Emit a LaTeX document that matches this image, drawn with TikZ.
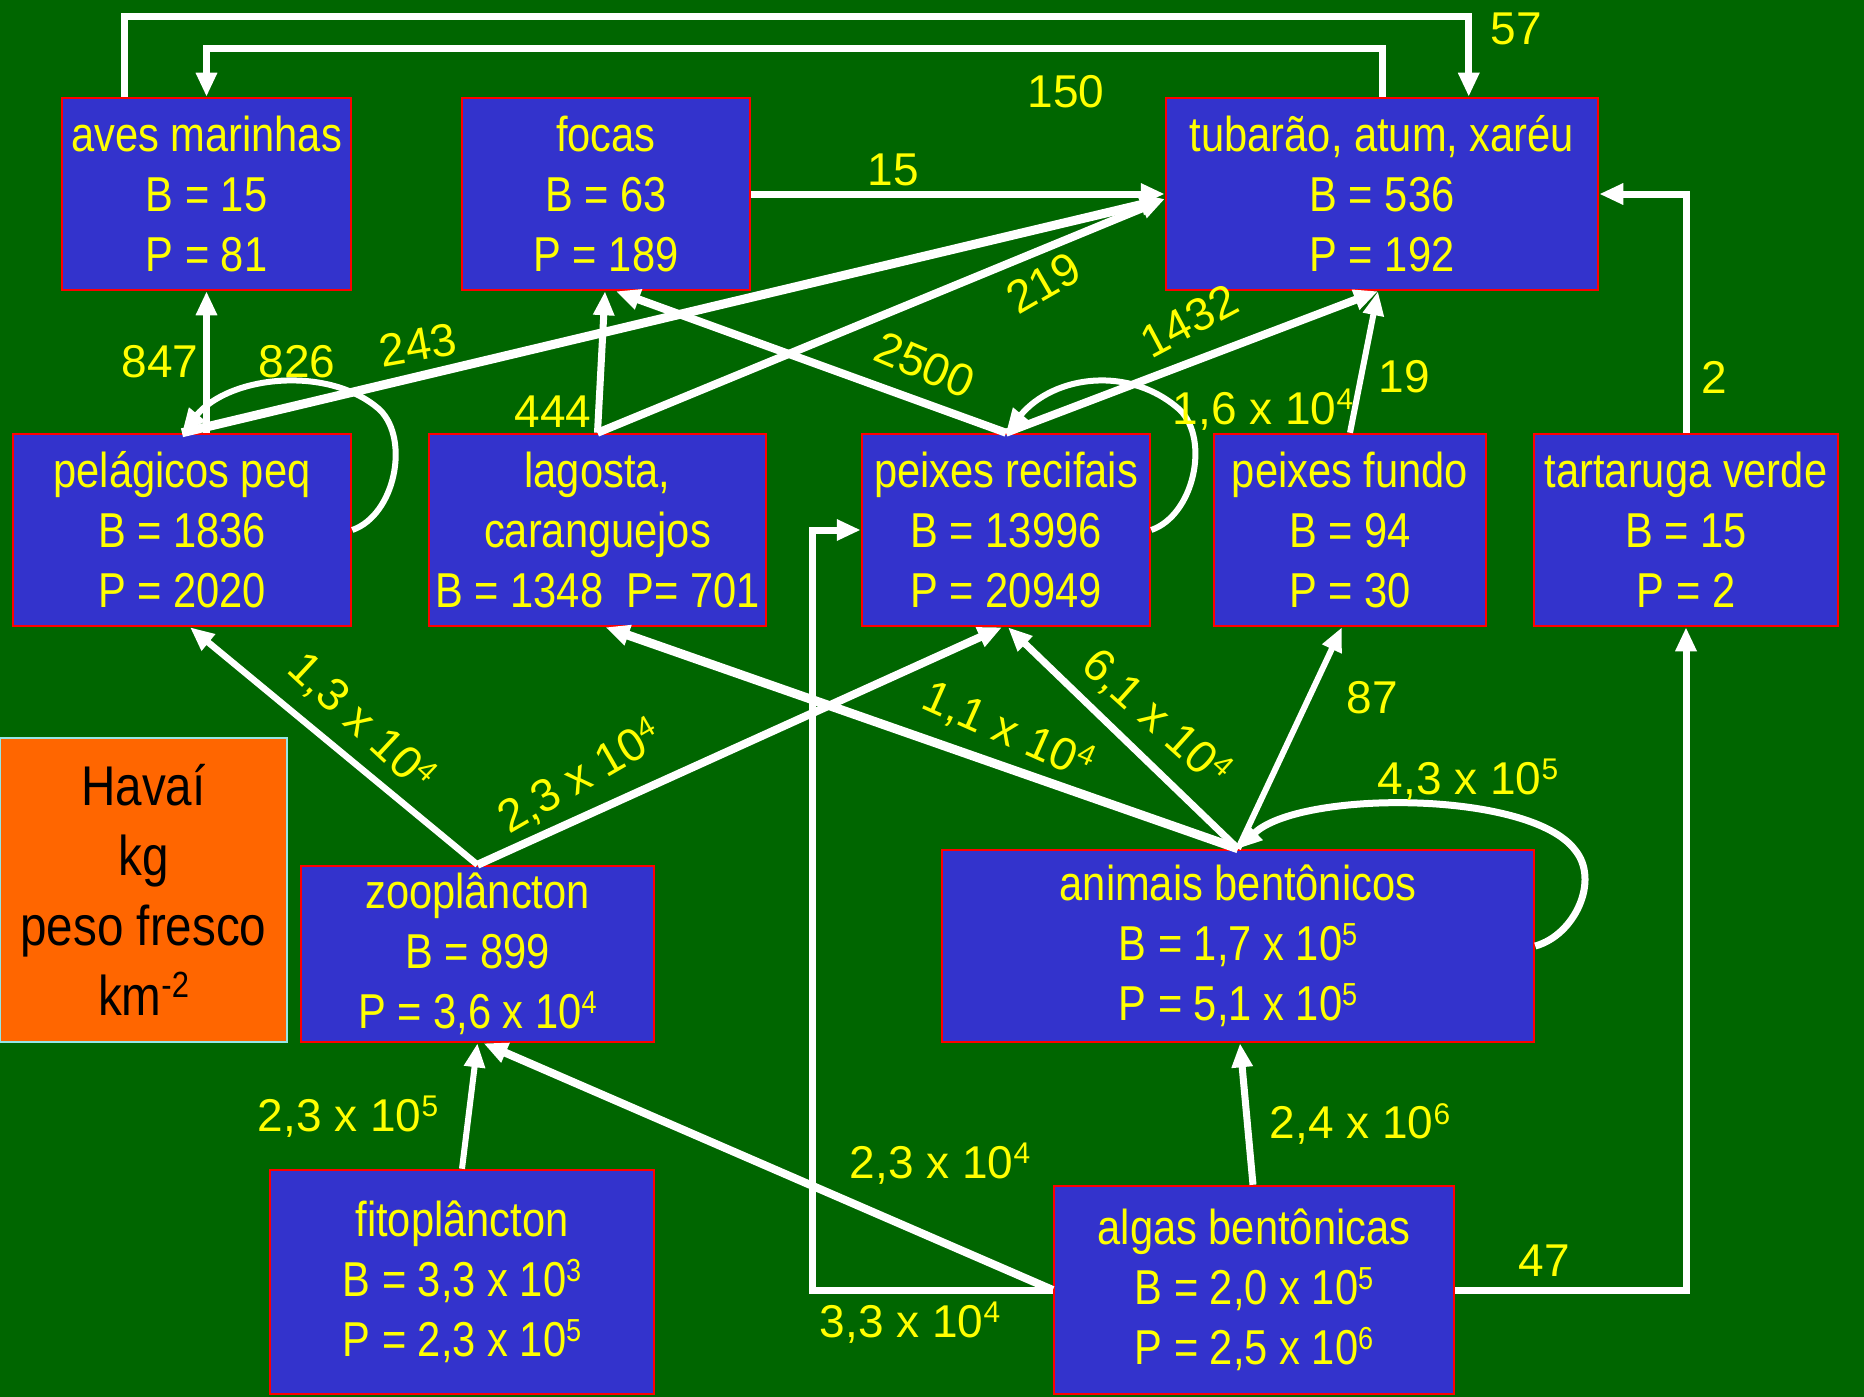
\documentclass[tikz,border=0pt]{standalone}
\usepackage{fontspec}
\setmainfont{Liberation Sans}
\newfontfamily\boxfont{Liberation Sans}[FakeStretch=0.85]
\usetikzlibrary{arrows.meta,calc}
\definecolor{sea}{RGB}{0,102,0}
\definecolor{boxblue}{RGB}{51,51,204}
\definecolor{txt}{RGB}{255,255,0}
\definecolor{tag}{RGB}{255,102,0}
\definecolor{tagline}{RGB}{150,230,230}
% raised exponent, sized relative to the surrounding text
\newcommand\pw[1]{\raisebox{0.32em}{\scalebox{0.65}{#1}}}

\begin{document}
\begin{tikzpicture}[x=1pt,y=-1pt,
  box/.style={draw=red, line width=2.5pt, fill=boxblue, text=txt, align=center,
    inner sep=0pt, font=\boxfont\fontsize{49}{60}\selectfont},
  legendbox/.style={draw=tagline, line width=2pt, fill=tag, text=black, align=center,
    inner sep=0pt, font=\boxfont\fontsize{56}{70}\selectfont},
  flow/.style={draw=white, line width=7pt, -{Triangle[length=24pt,width=20pt]}},
  lbl/.style={text=txt, inner sep=0pt, font=\fontsize{46}{52}\selectfont}]

\useasboundingbox (0,0) rectangle (1864,1397);
\fill[sea] (0,0) rectangle (1864,1397);

% compartments
\node[box, minimum width=289pt, minimum height=192pt] (aves) at (206.5,194) {aves marinhas\\B = 15\\P = 81};
\node[box, minimum width=288pt, minimum height=192pt] (focas) at (606,194) {focas\\B = 63\\P = 189};
\node[box, minimum width=432pt, minimum height=192pt] (tub) at (1382,194) {tubarão, atum, xaréu\\B = 536\\P = 192};
\node[box, minimum width=338pt, minimum height=192pt] (pel) at (182,530) {pelágicos peq\\B = 1836\\P = 2020};
\node[box, minimum width=337pt, minimum height=192pt] (lag) at (597.5,530) {lagosta,\\caranguejos\\B = 1348\ \ P= 701};
\node[box, minimum width=288pt, minimum height=192pt] (rec) at (1006,530) {peixes recifais\\B = 13996\\P = 20949};
\node[box, minimum width=272pt, minimum height=192pt] (fun) at (1350,530) {peixes fundo\\B = 94\\P = 30};
\node[box, minimum width=304pt, minimum height=192pt] (tar) at (1686,530) {tartaruga verde\\B = 15\\P = 2};
\node[legendbox, minimum width=287pt, minimum height=304pt] (hav) at (143.5,890) {Havaí\\kg\\peso fresco\\km\pw{-2}};
\node[box, minimum width=353pt, minimum height=176pt] (zoo) at (477.5,954) {zooplâncton\\B = 899\\P = 3,6 x 10\pw{4}};
\node[box, minimum width=384pt, minimum height=224pt] (fit) at (462,1282) {fitoplâncton\\B = 3,3 x 10\pw{3}\\P = 2,3 x 10\pw{5}};
\node[box, minimum width=592pt, minimum height=192pt] (ani) at (1238,946) {animais bentônicos\\B = 1,7 x 10\pw{5}\\P = 5,1 x 10\pw{5}};
\node[box, minimum width=400pt, minimum height=208pt] (alg) at (1254,1290) {algas bentônicas\\B = 2,0 x 10\pw{5}\\P = 2,5 x 10\pw{6}};

% flows between compartments
\draw[flow] ([xshift=64pt]aves.north west) -- ++(0,-80) -| ([xshift=304pt]tub.north west);
\draw[flow] ([xshift=218pt]tub.north west) -- ++(0,-48) -| (aves.north);
\draw[flow] (focas.east) -- (tub.west);
\draw[flow, line width=9pt] (pel.north) -- ([yshift=-5pt]tub.west);
\draw[flow, line width=8pt] (lag.north) -- ([yshift=-5pt]tub.west);
\draw[flow] (lag.north) -- ([xshift=-1pt]focas.south);
\draw[flow, line width=8pt] (rec.north) -- ([xshift=10pt]focas.south);
\draw[flow, line width=8pt] (rec.north) -- ([xshift=-4pt]tub.south);
\draw[flow, line width=6pt] (fun.north) -- ([xshift=-4pt]tub.south);
\draw[flow] (tar.north) |- (tub.east);
\draw[flow] (pel.north -| aves.south) -- (aves.south);
\draw[flow, line width=6pt] (pel.east) .. controls (395,515) and (410,440) .. (380,410)
  .. controls (330,365) and (230,375) .. (pel.north);
\draw[flow, line width=6pt] (rec.east) .. controls (1194,515) and (1210,440) .. (1180,410)
  .. controls (1130,365) and (1054,375) .. (rec.north);
\draw[flow, line width=6.5pt] (zoo.north) -- ([xshift=8pt]pel.south);
\draw[flow, line width=8pt] (zoo.north) -- ([xshift=-4pt]rec.south);
\draw[flow, line width=9pt] (ani.north) -- ([xshift=8pt]lag.south);
\draw[flow] (ani.north) -- ([xshift=2pt]rec.south);
\draw[flow, line width=6pt] (ani.north) -- ([xshift=-8pt]fun.south);
\draw[flow] (ani.east) .. controls (1575,935) and (1600,880) .. (1575,850)
  .. controls (1530,790) and (1300,790) .. (ani.north);
\draw[flow, line width=6pt] (fit.north) -- (zoo.south);
\draw[flow, line width=8pt] (alg.west) -- ([xshift=6pt]zoo.south);
\draw[flow] (alg.west) -| ([xshift=-48pt]rec.west) -- (rec.west);
\draw[flow] (alg.east) -| (tar.south);
\draw[flow] ([xshift=-1pt]alg.north) -- ([xshift=2pt]ani.south);

% flow values
\node[lbl] (l57) at (1516,29) {57};
\node[lbl] (l150) at (1066,92) {150};
\node[lbl] (l15) at (893,170) {15};
\node[lbl, rotate=10] (l243) at (418,345) {243};
\node[lbl, rotate=30] (l219) at (1044,283) {219};
\node[lbl] (l847) at (160,362) {847};
\node[lbl] (l826) at (297,362) {826};
\node[lbl] (l444) at (553,412) {444};
\node[lbl, rotate=-23] (l2500) at (925,365) {2500};
\node[lbl, rotate=28] (l1432) at (1189,321) {1432};
\node[lbl] (l16) at (1263,410) {1,6 x 10\pw{4}};
\node[lbl] (l19) at (1404,377) {19};
\node[lbl] (l2) at (1714,377) {2};
\node[lbl, rotate=-43] (l13) at (361,722) {1,3 x 10\pw{4}};
\node[lbl, rotate=30] (l23a) at (580,777) {2,3 x 10\pw{4}};
\node[lbl, rotate=-24] (l11) at (1008,731) {1,1 x 10\pw{4}};
\node[lbl, rotate=-42] (l61) at (1156,718) {6,1 x 10\pw{4}};
\node[lbl] (l87) at (1372,698) {87};
\node[lbl] (l43) at (1468,780) {4,3 x 10\pw{5}};
\node[lbl] (l23b) at (348,1117) {2,3 x 10\pw{5}};
\node[lbl] (l23c) at (940,1164) {2,3 x 10\pw{4}};
\node[lbl] (l33) at (910,1323) {3,3 x 10\pw{4}};
\node[lbl] (l47) at (1544,1261) {47};
\node[lbl] (l24) at (1360,1124) {2,4 x 10\pw{6}};
\end{tikzpicture}
\end{document}
